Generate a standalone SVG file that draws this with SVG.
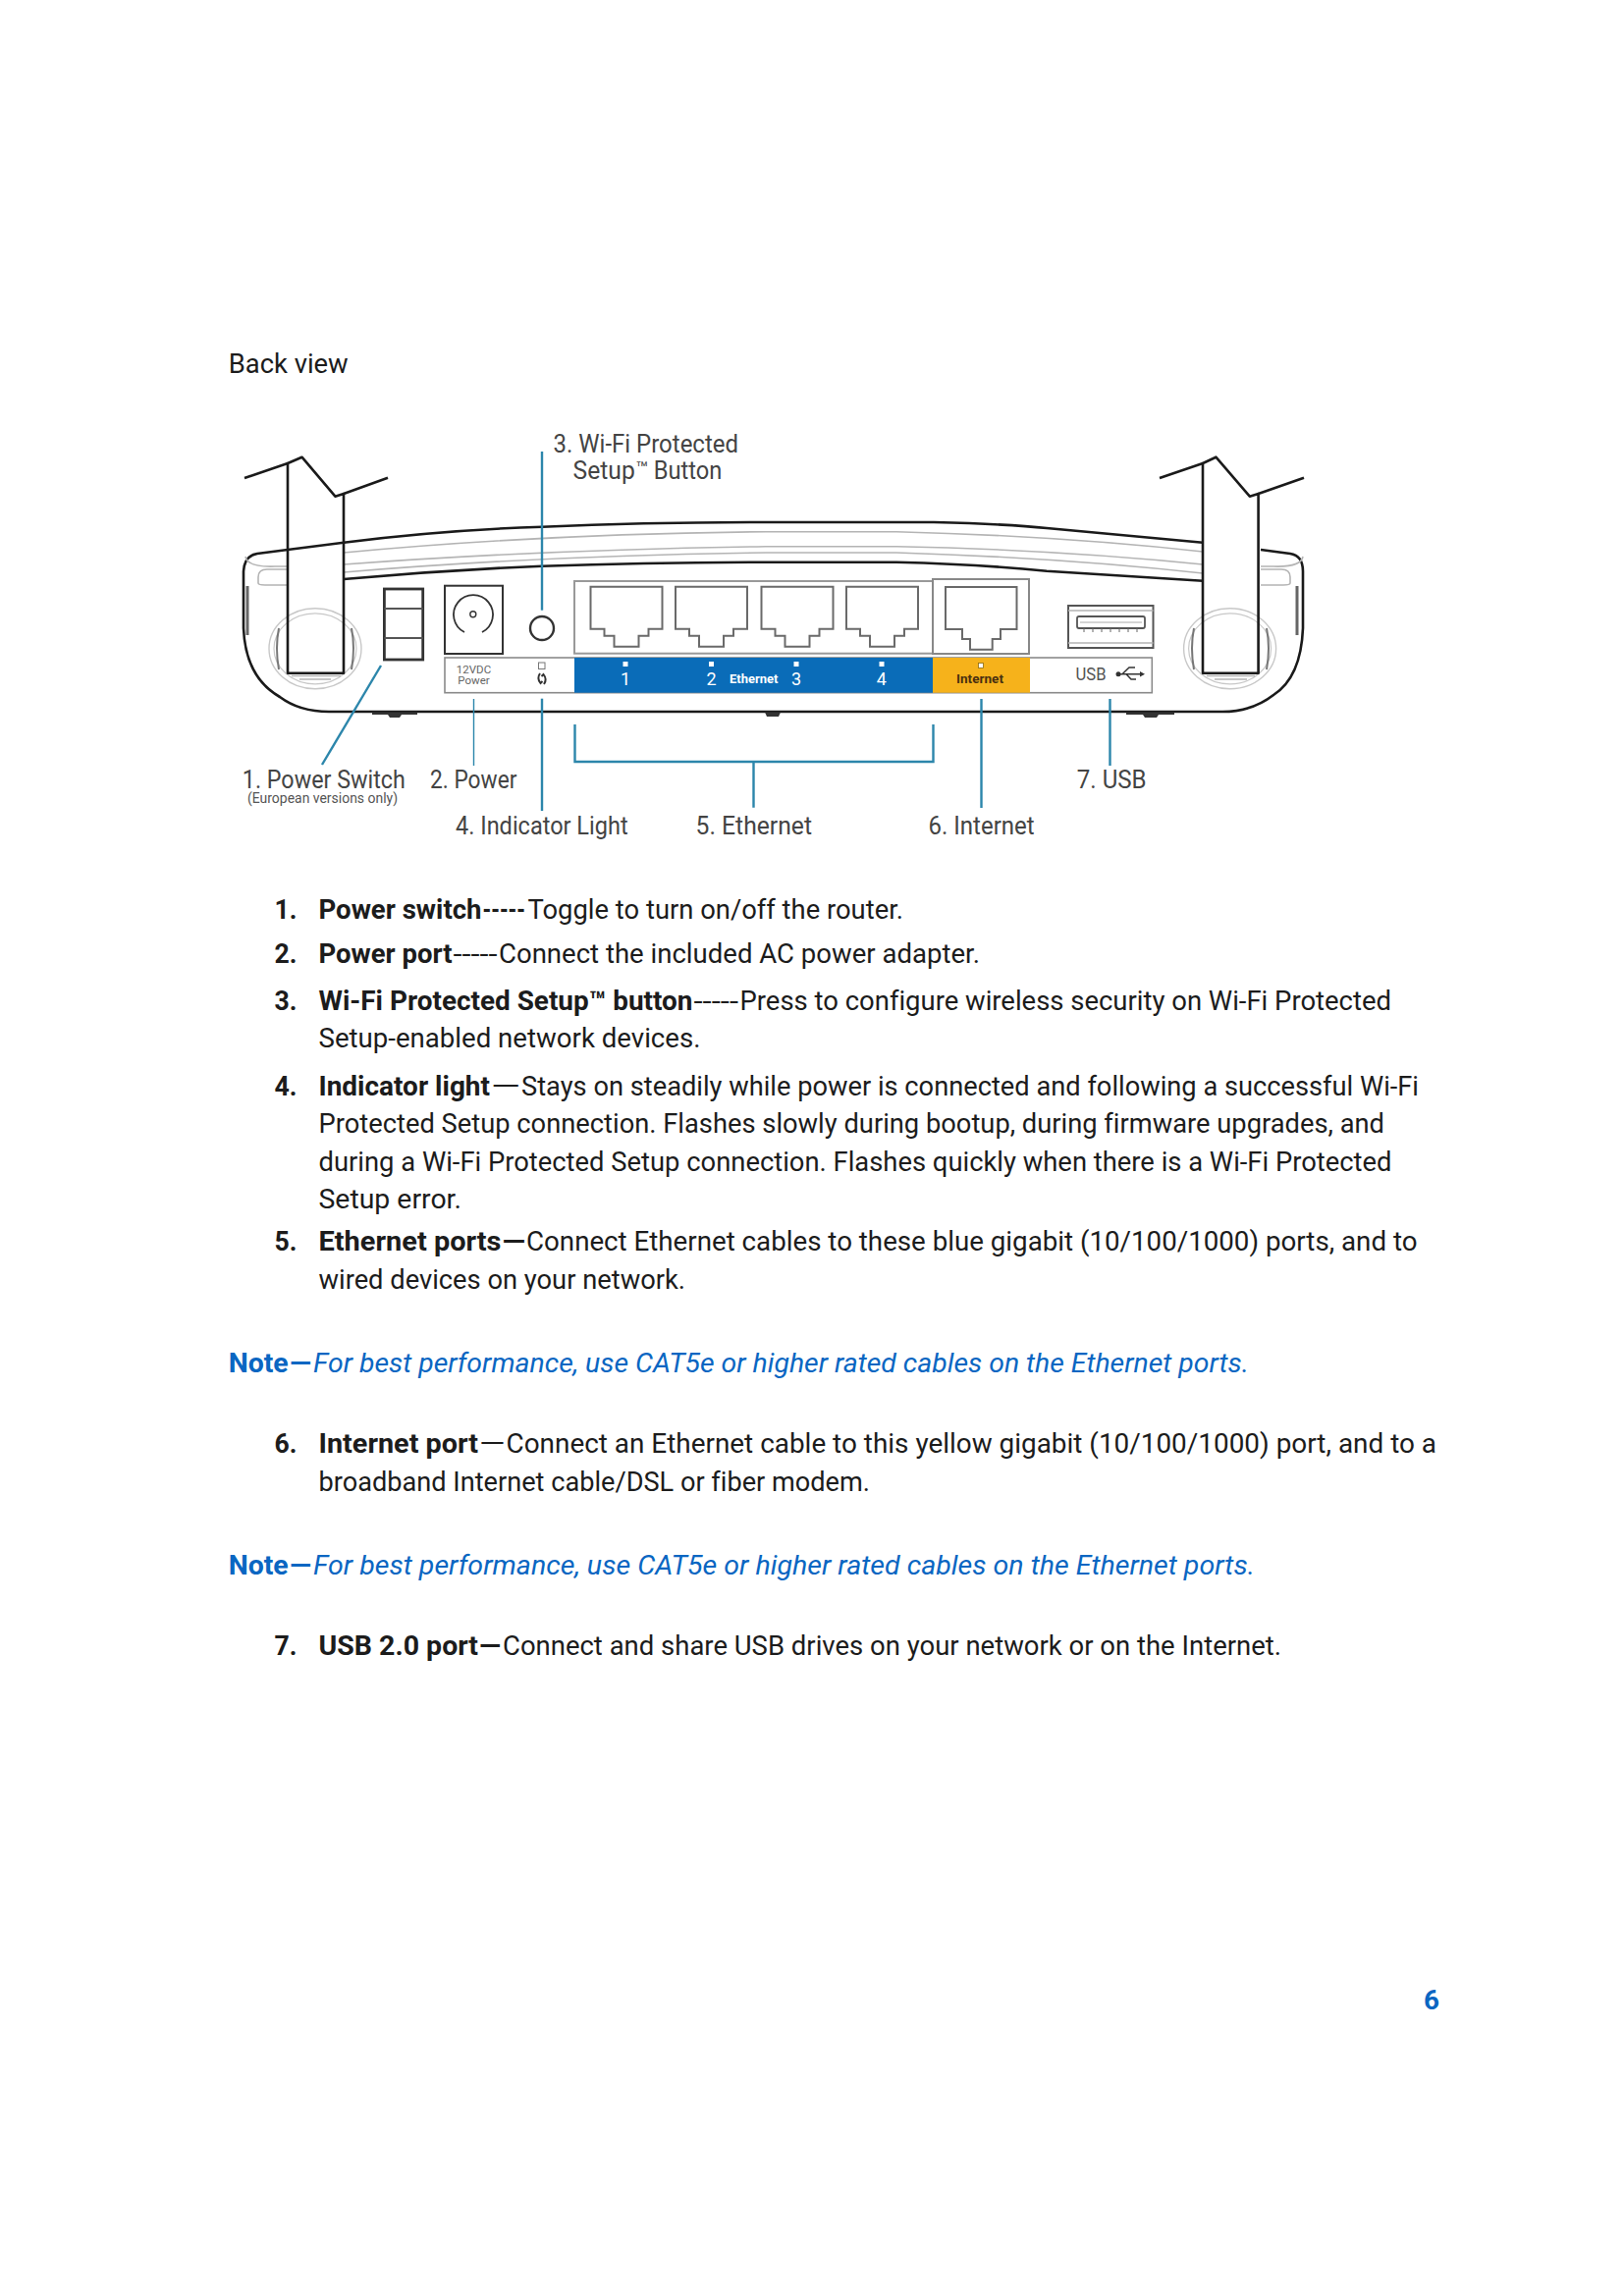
<svg xmlns="http://www.w3.org/2000/svg" width="1654" height="2339" viewBox="0 0 1654 2339">
<defs>
<style>
text{font-family:"Roboto","Liberation Sans",sans-serif;font-variant-ligatures:none}
.b{font-size:27px;fill:#1c1c1c;font-weight:400}
.s{font-weight:700}
.n{font-size:27px;fill:#0a66c2;font-style:italic}
.ns{font-size:27px;fill:#0a66c2;font-weight:700}
.l{font-size:25px;fill:#444}
.k{fill:none;stroke:#1a1a1a;stroke-width:2.6;stroke-linejoin:round}
.g{fill:none;stroke:#b4b4b4;stroke-width:1.6}
.c{fill:none;stroke:#2c86ab;stroke-width:2.4}
.w{font-size:18px;fill:#fff}
</style>
<path id="rj" d="M0 0H73V43H59V50H49V61H24V50H14V43H0Z" fill="#fff" stroke="#6a6a6a" stroke-width="2"/>
</defs>
<rect width="1654" height="2339" fill="#fff"/>
<text x="232.700" y="379.800" class="b" textLength="122" lengthAdjust="spacingAndGlyphs">Back view</text>

<g id="router-body">
<path class="k" d="M293 560L262 564Q249 566 248 582L248 640Q250 690 285 710Q305 725 335 725H1245Q1275 725 1297 708Q1325 690 1327 640V582Q1327 566 1314 564L1284 560"/>
<path class="k" d="M293 560L350 552.700Q450 540 552 536.700Q660 532 780 532H951Q1030 534 1066 538L1225 552.700"/>
<path class="k" d="M350 590Q450 581 552 576.700Q660 573 780 572.700H913Q1000 575 1066 581.700L1225 591.700"/>
<path class="g" d="M350 563Q550 544 780 541.700H913Q1080 546 1225 562"/>
<path class="g" d="M350 575Q550 560 780 556.700H913Q1080 560 1225 575"/>
<path class="g" d="M350 583Q550 566 780 563H913Q1080 568 1225 584"/>
<path class="g" d="M293 580H272Q263 580 263 588V594Q263 596 270 596H293M250 567Q252 578 280 577H293M1284 580H1305Q1314 580 1314 588V594Q1314 596 1307 596H1284M1327 567Q1325 578 1297 577H1284"/>
<path d="M252 597V647M1321 597V647" stroke="#666" stroke-width="3" fill="none"/>
<path fill="#333" d="M379 725.500H425V728H409L407 731H397L395 728H379ZM779 725.500H795L793 730H781ZM1147 725.500H1196V728H1180L1178 731H1166L1164 728H1147Z"/>
</g>

<g id="antenna-left">
<ellipse cx="321" cy="660.800" rx="47" ry="41" fill="none" stroke="#c8c8c8" stroke-width="1.400"/>
<ellipse cx="321" cy="660.800" rx="42" ry="36" fill="none" stroke="#c8c8c8" stroke-width="1.200"/>
<path d="M284 640Q280 660 284 682M358 640Q362 660 358 682" fill="none" stroke="#777" stroke-width="2"/>
<path class="k" fill="#fff" d="M293 472L307.500 465.700L341.400 505.700L350 503V685.700H293Z"/>
<path class="k" d="M249 487L293 472M350 503L395 486.700"/>
<path class="g" d="M297 688.500H347M305 692H337"/>
</g>
<g id="antenna-right">
<ellipse cx="1252.600" cy="660.800" rx="47" ry="41" fill="none" stroke="#c8c8c8" stroke-width="1.400"/>
<ellipse cx="1252.600" cy="660.800" rx="42" ry="36" fill="none" stroke="#c8c8c8" stroke-width="1.200"/>
<path d="M1216 640Q1212 660 1216 682M1290 640Q1294 660 1290 682" fill="none" stroke="#777" stroke-width="2"/>
<path class="k" fill="#fff" d="M1225 472L1238.400 465.700L1272.800 505.700L1281.600 503V685.700H1225Z"/>
<path class="k" d="M1181 487L1225 472M1281.600 503L1328 486.700"/>
<path class="g" d="M1229 688.500H1278M1237 692H1270"/>
</g>

<g id="power-switch">
<rect x="391.400" y="600" width="39.300" height="72" fill="#fff" stroke="#333" stroke-width="2.800"/>
<path d="M391.400 620H430.700M391.400 650H430.700" stroke="#555" stroke-width="2"/>
</g>
<g id="power-port">
<rect x="453" y="596.700" width="59" height="69.300" fill="#fff" stroke="#333" stroke-width="2"/>
<path fill="none" stroke="#333" stroke-width="1.800" d="M473 644A20 20 0 1 1 491 644"/>
<circle cx="481.800" cy="625.700" r="3" fill="none" stroke="#333" stroke-width="1.400"/>
</g>
<g id="wps-button">
<circle cx="552" cy="640" r="12" fill="#fff" stroke="#333" stroke-width="2.400"/>
</g>
<g id="label-strip">
<rect x="453" y="670" width="720.300" height="35.700" fill="#fff" stroke="#8a8a8a" stroke-width="1.600"/>
<text x="482.500" y="686" font-size="11.500" fill="#666" text-anchor="middle">12VDC</text>
<text x="482.500" y="696.500" font-size="11.500" fill="#666" text-anchor="middle">Power</text>
<rect x="548.500" y="675" width="6.500" height="6.500" fill="none" stroke="#777" stroke-width="1"/>
<path d="M550 686Q546.500 691 550.500 696L552.500 694M554 697Q557.500 692 553.500 687L551.500 689" fill="none" stroke="#333" stroke-width="2"/>
</g>
<g id="ethernet-ports">
<rect x="585" y="592" width="365" height="73.700" fill="#fff" stroke="#999" stroke-width="2"/>
<use href="#rj" x="601.500" y="597.700"/>
<use href="#rj" x="688" y="597.700"/>
<use href="#rj" x="775.500" y="597.700"/>
<use href="#rj" x="862" y="597.700"/>
<rect x="585" y="670" width="365" height="35.700" fill="#0a6cb8"/>
<g fill="#fff">
<rect x="634.500" y="674" width="5" height="5"/><rect x="722" y="674" width="5" height="5"/><rect x="808.500" y="674" width="5" height="5"/><rect x="895.500" y="674" width="5" height="5"/>
<text x="637" y="697.500" class="w" text-anchor="middle">1</text>
<text x="724.600" y="697.500" class="w" text-anchor="middle">2</text>
<text x="811" y="697.500" class="w" text-anchor="middle">3</text>
<text x="897.800" y="697.500" class="w" text-anchor="middle">4</text>
<text x="743" y="696" font-size="13" font-weight="700" textLength="49.500" lengthAdjust="spacingAndGlyphs">Ethernet</text>
</g>
</g>
<g id="internet-port">
<rect x="950" y="590" width="98" height="76" fill="#fff" stroke="#888" stroke-width="2"/>
<path d="M963 598H1035.500V641H1019V651H1010.700V661.700H988V651H980V641H963Z" fill="#fff" stroke="#6a6a6a" stroke-width="2"/>
<rect x="950" y="670" width="99" height="35.700" fill="#f6b21b"/>
<rect x="996.500" y="675.500" width="5" height="5" fill="#fff" stroke="#8a6a10" stroke-width="0.800"/>
<text x="974" y="696" font-size="13" font-weight="700" fill="#4a3010" textLength="48" lengthAdjust="spacingAndGlyphs">Internet</text>
</g>
<g id="usb-port">
<rect x="1088" y="617" width="86.500" height="43" fill="#fff" stroke="#555" stroke-width="2"/>
<path d="M1088 622H1174.500M1088 655H1174.500" class="g"/>
<rect x="1097" y="628" width="69" height="12" rx="2" fill="#fff" stroke="#555" stroke-width="1.800"/>
<path d="M1100 634H1163" stroke="#aaa" stroke-width="1"/>
<path d="M1104 640V644M1113 640V644M1122 640V644M1131 640V644M1140 640V644M1149 640V644M1158 640V644" stroke="#666" stroke-width="1"/>
<text x="1095.600" y="693" font-size="18" fill="#555" textLength="31" lengthAdjust="spacingAndGlyphs">USB</text>
<circle cx="1139" cy="686.700" r="2.500" fill="#333"/>
<path d="M1139 686.700H1163M1143 686.700L1150 680H1156M1147 686.700L1152 692H1157" fill="none" stroke="#333" stroke-width="1.500"/>
<path d="M1161 684L1166 686.700L1161 689.500Z" fill="#333"/>
</g>

<g id="connectors">
<path class="c" d="M552 460V621.700"/>
<path class="c" d="M552 711.700V826"/>
<path class="c" d="M388 678L328 779"/>
<path class="c" style="stroke-width:1.400" d="M482.500 712V780"/>
<path class="c" d="M585.500 738V776H950.500V738M767.500 776V822.700"/>
<path class="c" d="M999.500 712V823"/>
<path class="c" d="M1130.500 712V780"/>
</g>

<g id="callout-labels">
<text x="563.600" y="461" class="l" textLength="188.400" lengthAdjust="spacingAndGlyphs">3. Wi-Fi Protected</text>
<text x="583.600" y="488" class="l" textLength="63.200" lengthAdjust="spacingAndGlyphs">Setup</text>
<text x="647.500" y="483" font-size="18" fill="#444" textLength="13" lengthAdjust="spacingAndGlyphs">™</text>
<text x="665.700" y="488" class="l" textLength="69.700" lengthAdjust="spacingAndGlyphs">Button</text>
<text x="246.800" y="802.500" class="l" textLength="166" lengthAdjust="spacingAndGlyphs">1. Power Switch</text>
<text x="252" y="818" font-size="14" fill="#555" textLength="153" lengthAdjust="spacingAndGlyphs">(European versions only)</text>
<text x="438" y="802.500" class="l" textLength="88.400" lengthAdjust="spacingAndGlyphs">2. Power</text>
<text x="464" y="850" class="l" textLength="175.600" lengthAdjust="spacingAndGlyphs">4. Indicator Light</text>
<text x="708.600" y="850" class="l" textLength="118.400" lengthAdjust="spacingAndGlyphs">5. Ethernet</text>
<text x="945.600" y="850" class="l" textLength="108" lengthAdjust="spacingAndGlyphs">6. Internet</text>
<text x="1096.800" y="802.500" class="l" textLength="70.800" lengthAdjust="spacingAndGlyphs">7. USB</text>
</g>

<g id="list" transform="translate(0 -0.700)">
<g class="b s">
<text x="279.400" y="936.500" textLength="23" lengthAdjust="spacingAndGlyphs">1.</text><text x="279.400" y="981.500" textLength="23" lengthAdjust="spacingAndGlyphs">2.</text><text x="279.400" y="1029.800" textLength="23" lengthAdjust="spacingAndGlyphs">3.</text><text x="279.400" y="1116.500" textLength="23" lengthAdjust="spacingAndGlyphs">4.</text><text x="279.400" y="1275.200" textLength="23" lengthAdjust="spacingAndGlyphs">5.</text><text x="279.400" y="1481" textLength="23" lengthAdjust="spacingAndGlyphs">6.</text><text x="279.400" y="1686.500" textLength="23" lengthAdjust="spacingAndGlyphs">7.</text>
</g>
<text x="324.500" y="936.500" class="b s" textLength="166" lengthAdjust="spacingAndGlyphs">Power switch</text>
<text x="491.500" y="936.500" class="b s" textLength="43.500" lengthAdjust="spacingAndGlyphs">-----</text>
<text x="537.500" y="936.500" class="b" textLength="382.500" lengthAdjust="spacingAndGlyphs">Toggle to turn on/off the router.</text>
<text x="324.500" y="981.500" class="b s" textLength="136" lengthAdjust="spacingAndGlyphs">Power port</text>
<text x="461.500" y="981.500" class="b" textLength="45" lengthAdjust="spacingAndGlyphs">-----</text>
<text x="508" y="981.500" class="b" textLength="490" lengthAdjust="spacingAndGlyphs">Connect the included AC power adapter.</text>
<text x="324.500" y="1029.800" class="b s" textLength="381" lengthAdjust="spacingAndGlyphs">Wi-Fi Protected Setup™ button</text>
<text x="706.500" y="1029.800" class="b" textLength="45.500" lengthAdjust="spacingAndGlyphs">-----</text>
<text x="753.500" y="1029.800" class="b" textLength="663.500" lengthAdjust="spacingAndGlyphs">Press to configure wireless security on Wi-Fi Protected</text>
<text x="324.500" y="1068" class="b" textLength="389" lengthAdjust="spacingAndGlyphs">Setup-enabled network devices.</text>
<text x="324.500" y="1116.500" class="b s" textLength="174.500" lengthAdjust="spacingAndGlyphs">Indicator light</text>
<text x="500" y="1116.500" class="b" textLength="30" lengthAdjust="spacingAndGlyphs">—</text>
<text x="531" y="1116.500" class="b" textLength="914" lengthAdjust="spacingAndGlyphs">Stays on steadily while power is connected and following a successful Wi-Fi</text>
<text x="324.500" y="1155" class="b" textLength="1085.500" lengthAdjust="spacingAndGlyphs">Protected Setup connection. Flashes slowly during bootup, during firmware upgrades, and</text>
<text x="324.500" y="1193.500" class="b" textLength="1093" lengthAdjust="spacingAndGlyphs">during a Wi-Fi Protected Setup connection. Flashes quickly when there is a Wi-Fi Protected</text>
<text x="324.500" y="1232" class="b" textLength="145.500" lengthAdjust="spacingAndGlyphs">Setup error.</text>
<text x="324.500" y="1275.200" class="b s" textLength="186" lengthAdjust="spacingAndGlyphs">Ethernet ports</text>
<text x="511.500" y="1275.200" class="b s" textLength="23.500" lengthAdjust="spacingAndGlyphs">—</text>
<text x="536" y="1275.200" class="b" textLength="907.500" lengthAdjust="spacingAndGlyphs">Connect Ethernet cables to these blue gigabit (10/100/1000) ports, and to</text>
<text x="324.500" y="1314" class="b" textLength="373.500" lengthAdjust="spacingAndGlyphs">wired devices on your network.</text>
<text x="232.700" y="1399" class="ns" textLength="61" lengthAdjust="spacingAndGlyphs">Note</text>
<text x="295" y="1399" class="ns" textLength="22" lengthAdjust="spacingAndGlyphs">—</text>
<text x="319" y="1399" class="n" textLength="953" lengthAdjust="spacingAndGlyphs">For best performance, use CAT5e or higher rated cables on the Ethernet ports.</text>
<text x="324.500" y="1481" class="b s" textLength="162.500" lengthAdjust="spacingAndGlyphs">Internet port</text>
<text x="488" y="1481" class="b" textLength="26.500" lengthAdjust="spacingAndGlyphs">—</text>
<text x="515.500" y="1481" class="b" textLength="947.500" lengthAdjust="spacingAndGlyphs">Connect an Ethernet cable to this yellow gigabit (10/100/1000) port, and to a</text>
<text x="324.500" y="1519.500" class="b" textLength="561.500" lengthAdjust="spacingAndGlyphs">broadband Internet cable/DSL or fiber modem.</text>
<text x="232.700" y="1604.500" class="ns" textLength="61" lengthAdjust="spacingAndGlyphs">Note</text>
<text x="295" y="1604.500" class="ns" textLength="22" lengthAdjust="spacingAndGlyphs">—</text>
<text x="319" y="1604.500" class="n" textLength="959" lengthAdjust="spacingAndGlyphs">For best performance, use CAT5e or higher rated cables on the Ethernet ports.</text>
<text x="324.500" y="1686.500" class="b s" textLength="162.500" lengthAdjust="spacingAndGlyphs">USB 2.0 port</text>
<text x="488" y="1686.500" class="b s" textLength="22" lengthAdjust="spacingAndGlyphs">—</text>
<text x="512" y="1686.500" class="b" textLength="793" lengthAdjust="spacingAndGlyphs">Connect and share USB drives on your network or on the Internet.</text>
</g>
<text x="1450" y="2046.800" font-size="28" font-weight="700" fill="#0a66c2" textLength="16" lengthAdjust="spacingAndGlyphs">6</text>
</svg>
